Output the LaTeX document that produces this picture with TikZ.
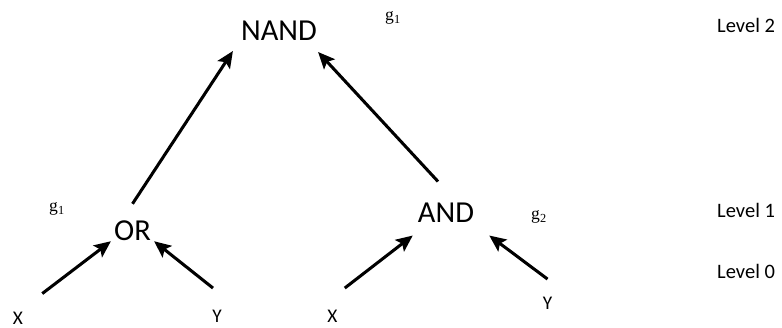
\documentclass[tikz,border=0pt]{standalone}
\usepackage{fontspec}
\setmainfont{Carlito}
\newfontfamily\tagfont{Liberation Serif}
\usetikzlibrary{arrows.meta}

\begin{document}
\begin{tikzpicture}[
    x=0.3mm, y=-0.3mm,
    >={Stealth[length=5mm, width=4.4mm, inset=1mm]},
    gate/.style={inner sep=0pt, font=\fontsize{26}{30}\selectfont},
    leaf/.style={inner sep=0pt, font=\fontsize{16.5}{20}\selectfont},
    gtag/.style={inner sep=0pt, font=\tagfont\fontsize{15}{18}\selectfont},
    lvl/.style={inner sep=0pt, anchor=west, font=\fontsize{17.5}{21}\selectfont},
    wire/.style={line width=2.6pt, ->},
]
  \useasboundingbox (0,0) rectangle (782,327);
  % Gates
  \node[gate] (nand) at (279,31) {NAND};
  \node[gate] (orgate) at (132.5,231) {OR};
  \node[gate] (andgate) at (446,212.5) {AND};
  % Tags
  \node[gtag] (gtop) at (393,18) {g\textsubscript{1}};
  \node[gtag] (gleft) at (57,209) {g\textsubscript{1}};
  \node[gtag] (gright) at (539,217) {g\textsubscript{2}};
  % Inputs
  \node[leaf] (xa) at (18,318) {X};
  \node[leaf] (ya) at (217,316.5) {Y};
  \node[leaf] (xb) at (332.5,316.5) {X};
  \node[leaf] (yb) at (547.5,303.5) {Y};
  % Levels
  \node[lvl] (lvtwo) at (717,25) {Level 2};
  \node[lvl] (lvone) at (717,210) {Level 1};
  \node[lvl] (lvzero) at (717,271) {Level 0};
  % Level 1 -> Level 2
  \draw[wire] ([shift={(0,-17)}]orgate.north) -- ([shift={(-8,10)}]nand.south west);
  \draw[wire] ([shift={(-8,-21)}]andgate.north) -- ([shift={(1,11)}]nand.south east);
  % Level 0 -> Level 1
  \draw[wire] ([shift={(19,-18)}]xa.north east) -- ([shift={(-3,0)}]orgate.south west);
  \draw[wire] ([shift={(-4,-22)}]ya.north) -- ([shift={(3,0)}]orgate.south east);
  \draw[wire] ([shift={(7,-22)}]xb.north east) -- ([shift={(-5,13)}]andgate.south west);
  \draw[wire] ([shift={(0,-18)}]yb.north) -- ([shift={(15,13)}]andgate.south east);
\end{tikzpicture}
\end{document}
